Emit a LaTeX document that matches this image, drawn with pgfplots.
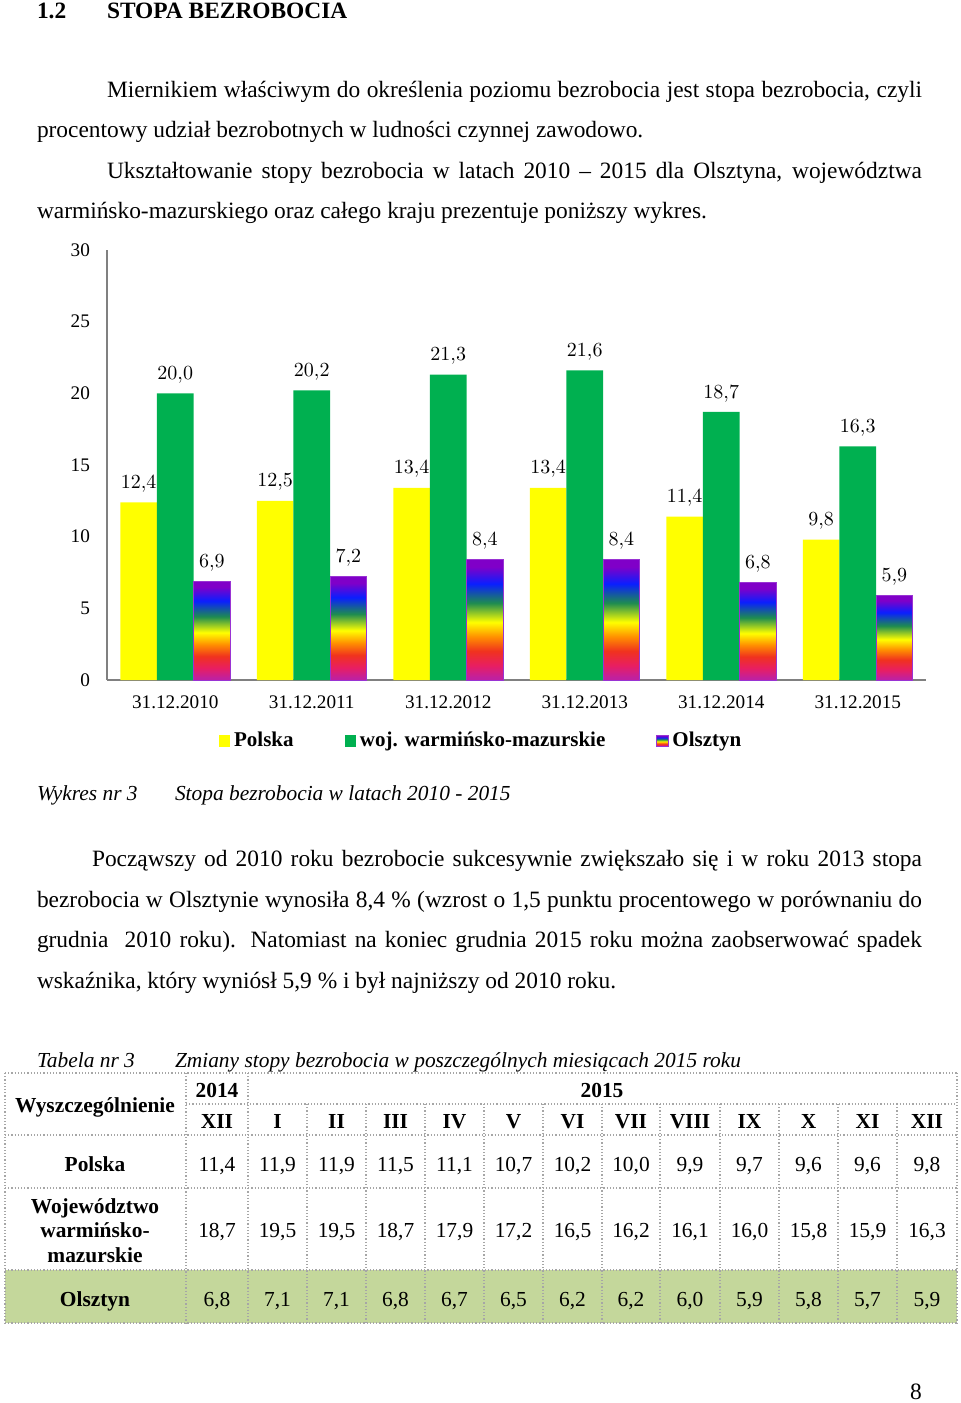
\documentclass[border=0pt]{standalone}
\usepackage{pgfplots}
\pgfplotsset{compat=1.18}
\usepackage{fontspec}
\setmainfont{Liberation Serif}

\definecolor{plY}{HTML}{FFFF00}
\definecolor{wmG}{HTML}{00B050}
\definecolor{rbMag}{HTML}{C0209F}
\definecolor{rbPink}{HTML}{E81E62}
\definecolor{rbRed}{HTML}{F0321E}
\definecolor{rbOrange}{HTML}{FF9000}
\definecolor{rbYellow}{HTML}{FFFF00}
\definecolor{rbGreen}{HTML}{1E8C50}
\definecolor{rbBlue}{HTML}{0A1EFF}
\definecolor{rbPurple}{HTML}{8000C8}
\definecolor{olsz}{HTML}{C4D79B}

\pgfdeclareverticalshading{rainbowbar}{100bp}{
  color(0bp)=(rbMag); color(26bp)=(rbMag); color(31bp)=(rbPink);
  color(37bp)=(rbRed); color(43bp)=(rbOrange); color(49bp)=(rbYellow);
  color(57bp)=(rbGreen); color(65bp)=(rbBlue); color(72bp)=(rbPurple);
  color(100bp)=(rbPurple)}

\pgfplotsset{
  sqlegend/.style={legend image code/.code={\path[##1] (0pt,-2.8pt) rectangle (5.6pt,2.8pt);}},
}

\newcommand{\body}{\fontsize{11.7}{14}\selectfont}
\newcommand{\capt}{\fontsize{10.7}{13}\selectfont\itshape}
\newcommand{\tab}{\fontsize{10.7}{13}\selectfont}

\begin{document}
\begin{tikzpicture}
\path[use as bounding box] (0,0) rectangle (480pt,-701.5pt);

\begin{scope}[x=0.5pt,y=-0.5pt, every node/.style={inner sep=0pt, outer sep=0pt}]
% heading
\node[anchor=base west, font=\fontsize{11.7}{14}\selectfont\bfseries] at (37,18) {1.2};
\node[anchor=base west, font=\fontsize{11.7}{14}\selectfont\bfseries] at (107,18) {STOPA BEZROBOCIA};

% first paragraph
\node[anchor=base west, font=\body] at (107,97) {\makebox[407.5pt][s]{Miernikiem właściwym do określenia poziomu bezrobocia jest stopa bezrobocia, czyli}};
\node[anchor=base west, font=\body] at (37,137) {procentowy udział bezrobotnych w ludności czynnej zawodowo.};
\node[anchor=base west, font=\body] at (107,178) {\makebox[407.5pt][s]{Ukształtowanie stopy bezrobocia w latach 2010 – 2015 dla Olsztyna, województwa}};
\node[anchor=base west, font=\body] at (37,218) {warmińsko-mazurskiego oraz całego kraju prezentuje poniższy wykres.};

% chart caption
\node[anchor=base west, font=\capt] at (37,800) {Wykres nr 3};
\node[anchor=base west, font=\capt] at (175,800) {Stopa bezrobocia w latach 2010 - 2015};

% second paragraph
\node[anchor=base west, font=\body] at (92,866) {\makebox[415pt][s]{Począwszy od 2010 roku bezrobocie sukcesywnie zwiększało się i w roku 2013 stopa}};
\node[anchor=base west, font=\body] at (37,907) {\makebox[442.5pt][s]{bezrobocia w Olsztynie wynosiła 8,4 \% (wzrost o 1,5 punktu procentowego w porównaniu do}};
\node[anchor=base west, font=\body] at (37,947) {\makebox[442.5pt][s]{grudnia \ 2010 roku). Natomiast na koniec grudnia 2015 roku można zaobserwować spadek}};
\node[anchor=base west, font=\body] at (37,988) {wskaźnika, który wyniósł 5,9 \% i był najniższy od 2010 roku.};

% table caption
\node[anchor=base west, font=\capt] at (37,1067) {Tabela nr 3};
\node[anchor=base west, font=\capt] at (175,1067) {Zmiany stopy bezrobocia w poszczególnych miesiącach 2015 roku};

% table
\fill[olsz] (5,1270) rectangle (957,1323);
\tikzset{tline/.style={gray!70, densely dotted, line width=0.6pt}}
\foreach \yy in {1073,1135,1188,1270,1323} \draw[tline] (5,\yy) -- (957,\yy);
\draw[tline] (186,1104) -- (957,1104);
\foreach \xx in {5,186,248,957} \draw[tline] (\xx,1073) -- (\xx,1323);
\foreach \xx in {307,366,425,484,543,602,660,720,779,838,897} \draw[tline] (\xx,1104) -- (\xx,1323);

\node[anchor=base, font=\tab\bfseries] at (95,1112) {Wyszczególnienie};
\node[anchor=base, font=\tab\bfseries] at (217,1097) {2014};
\node[anchor=base, font=\tab\bfseries] at (602,1097) {2015};
\foreach \cx/\v in {217/XII,277.5/I,336.5/II,395.5/III,454.5/IV,513.5/V,572.5/VI,631/VII,690/VIII,749.5/IX,808.5/X,867.5/XI,927/XII}
  \node[anchor=base, font=\tab\bfseries] at (\cx,1128) {\v};

\node[anchor=base, font=\tab\bfseries] at (95,1171) {Polska};
\foreach \cx/\v in {217/11{,}4,277.5/11{,}9,336.5/11{,}9,395.5/11{,}5,454.5/11{,}1,513.5/10{,}7,572.5/10{,}2,631/10{,}0,690/9{,}9,749.5/9{,}7,808.5/9{,}6,867.5/9{,}6,927/9{,}8}
  \node[anchor=base, font=\tab] at (\cx,1171) {\v};

\node[anchor=base, font=\tab\bfseries] at (95,1213) {Województwo};
\node[anchor=base, font=\tab\bfseries] at (95,1237) {warmińsko-};
\node[anchor=base, font=\tab\bfseries] at (95,1262) {mazurskie};
\foreach \cx/\v in {217/18{,}7,277.5/19{,}5,336.5/19{,}5,395.5/18{,}7,454.5/17{,}9,513.5/17{,}2,572.5/16{,}5,631/16{,}2,690/16{,}1,749.5/16{,}0,808.5/15{,}8,867.5/15{,}9,927/16{,}3}
  \node[anchor=base, font=\tab] at (\cx,1237) {\v};

\node[anchor=base, font=\tab\bfseries] at (95,1306) {Olsztyn};
\foreach \cx/\v in {217/6{,}8,277.5/7{,}1,336.5/7{,}1,395.5/6{,}8,454.5/6{,}7,513.5/6{,}5,572.5/6{,}2,631/6{,}2,690/6{,}0,749.5/5{,}9,808.5/5{,}8,867.5/5{,}7,927/5{,}9}
  \node[anchor=base, font=\tab] at (\cx,1306) {\v};

% page number
\node[anchor=base, font=\body] at (916,1399) {8};
\end{scope}

\begin{axis}[
  at={(53.5pt,-340pt)}, anchor=south west,
  scale only axis, width=409.5pt, height=215pt,
  xmin=-0.5, xmax=5.5, ymin=0, ymax=30,
  axis x line*=bottom, axis y line*=left,
  axis line style={gray, line width=0.6pt, -},
  major tick length=0pt,
  xtick={0,1,2,3,4,5},
  xticklabels={31.12.2010,31.12.2011,31.12.2012,31.12.2013,31.12.2014,31.12.2015},
  ytick={0,5,10,15,20,25,30},
  yticklabels={0,5,10,15,20,25,30},
  tick label style={font=\fontsize{9.6}{11}\selectfont},
  xticklabel style={yshift=-4.5pt},
  yticklabel style={xshift=-5pt},
  ybar, bar width=0.268,
  nodes near coords={\pgfmathprintnumber[fixed,fixed zerofill,precision=1,use comma]{\pgfplotspointmeta}},
  every node near coord/.append style={font=\fontsize{9.6}{11}\selectfont, yshift=1.5pt, black},
  legend style={at={(0.458,-0.142)}, anchor=center, draw=none, fill=none,
    legend columns=3, font=\fontsize{10.5}{12}\selectfont\bfseries,
    /tikz/every even column/.append style={column sep=23.5pt}},
  clip=false,
  rb/.style={shade, shading=rainbowbar, draw=rbPurple!80, line width=0.4pt, bar shift=0.268},
]
\addplot[fill=plY, draw=none, bar shift=-0.268, sqlegend]
  coordinates {(0,12.4) (1,12.5) (2,13.4) (3,13.4) (4,11.4) (5,9.8)};
\addlegendentry{Polska}
\addplot[fill=wmG, draw=none, bar shift=0, sqlegend]
  coordinates {(0,20.0) (1,20.2) (2,21.3) (3,21.6) (4,18.7) (5,16.3)};
\addlegendentry{woj. warmińsko-mazurskie}
\addplot[rb, sqlegend] coordinates {(0,6.9)};
\addlegendentry{Olsztyn}
\addplot[rb, forget plot] coordinates {(1,7.2)};
\addplot[rb, forget plot] coordinates {(2,8.4)};
\addplot[rb, forget plot] coordinates {(3,8.4)};
\addplot[rb, forget plot] coordinates {(4,6.8)};
\addplot[rb, forget plot] coordinates {(5,5.9)};
\end{axis}
\end{tikzpicture}
\end{document}
